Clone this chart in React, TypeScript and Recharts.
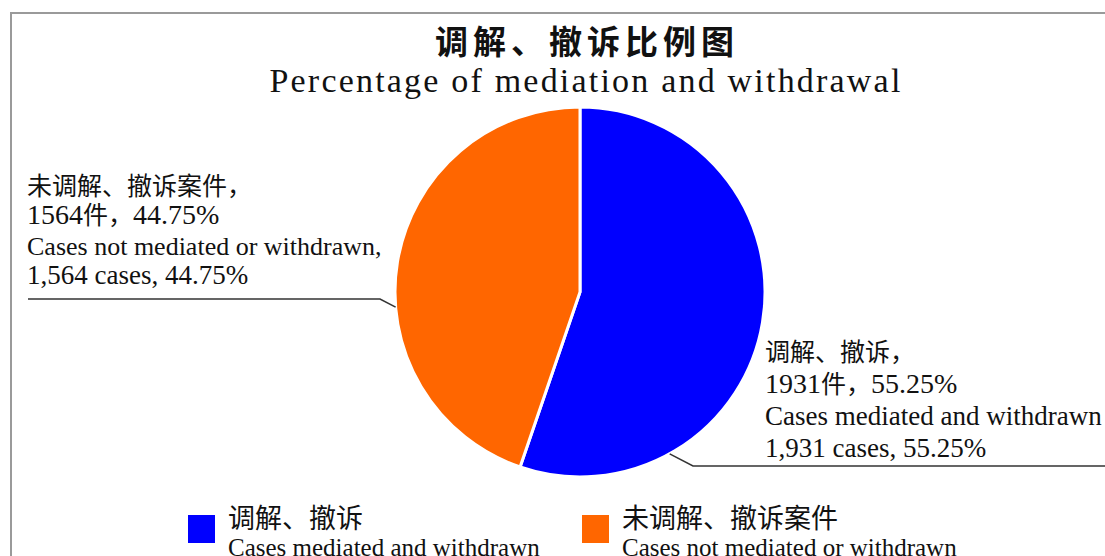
import { PieChart, Pie, Cell } from "recharts"

const categories = ["调解、撤诉", "未调解、撤诉案件"]
const categoriesEn = ["Cases mediated and withdrawn", "Cases not mediated or withdrawn"]
const caseCounts = [1931, 1564]
const percents = [55.25, 44.75]
const colors = ["#0000FF", "#FF6600"]

const chartData = categories.map((name, i) => ({
  name,
  nameEn: categoriesEn[i],
  value: caseCounts[i],
  pct: percents[i],
}))

const serif = '"Liberation Serif", "DejaVu Serif", serif'
const cjk = '"Noto Sans CJK SC", sans-serif'
const RAD = Math.PI / 180

function SliceLabel(props: any) {
  const { cx, cy, outerRadius, index } = props
  const d = chartData[index]
  if (index === 0) {
    // blue slice: leader from lower-right edge out to the right
    const a = -61 * RAD
    const px = cx + outerRadius * Math.cos(a)
    const py = cy - outerRadius * Math.sin(a)
    const ex = cx + 113
    const ey = cy + 174
    const tx = cx + 185
    return (
      <g>
        <polyline points={`${px},${py} ${ex},${ey} 1110,${ey}`} fill="none" stroke="#333" strokeWidth={1.5} />
        <text x={tx} y={cy + 69} fontFamily={cjk} fontSize={25} fill="#111">{d.name}，</text>
        <text x={tx} y={cy + 101} fontFamily={serif} fontSize={28} fill="#111">
          {d.value}<tspan fontFamily={cjk} fontSize={25}>件，</tspan>{d.pct.toFixed(2)}%
        </text>
        <text x={tx} y={cy + 133} fontFamily={serif} fontSize={27} fill="#111">{d.nameEn}</text>
        <text x={tx} y={cy + 165} fontFamily={serif} fontSize={27} fill="#111">
          {d.value.toLocaleString("en-US")} cases, {d.pct.toFixed(2)}%
        </text>
      </g>
    )
  }
  // orange slice: leader from left edge out to the left
  const a = 184.7 * RAD
  const px = cx + outerRadius * Math.cos(a)
  const py = cy - outerRadius * Math.sin(a)
  const ex = cx - 200
  const ey = cy + 7
  const tx = 27
  return (
    <g>
      <polyline points={`${px},${py} ${ex},${ey} 28,${ey}`} fill="none" stroke="#333" strokeWidth={1.5} />
      <text x={tx} y={cy - 97} fontFamily={cjk} fontSize={25} fill="#111">{d.name}，</text>
      <text x={tx} y={cy - 68} fontFamily={serif} fontSize={28} fill="#111">
        {d.value}<tspan fontFamily={cjk} fontSize={25}>件，</tspan>{d.pct.toFixed(2)}%
      </text>
      <text x={tx} y={cy - 37} fontFamily={serif} fontSize={26} fill="#111">{d.nameEn},</text>
      <text x={tx} y={cy - 8} fontFamily={serif} fontSize={27} fill="#111">
        {d.value.toLocaleString("en-US")} cases, {d.pct.toFixed(2)}%
      </text>
    </g>
  )
}

export default function App() {
  return (
    <div style={{ position: "absolute", left: 0, top: 0, width: 1105, height: 556, overflow: "hidden", background: "#fff" }}>
      <div style={{ position: "absolute", left: 10, top: 12, width: 1120, height: 600, border: "2px solid #9a9a9a", boxSizing: "border-box" }} />
      <div style={{ position: "absolute", left: 0, width: 1174, top: 20, textAlign: "center", fontFamily: cjk, fontWeight: 700, fontSize: 33, letterSpacing: 5, color: "#111", lineHeight: "40px" }}>
        调解、撤诉比例图
      </div>
      <div style={{ position: "absolute", left: 0, width: 1172, top: 61, textAlign: "center", fontFamily: serif, fontSize: 34, letterSpacing: 2.2, color: "#111", lineHeight: "40px" }}>
        Percentage of mediation and withdrawal
      </div>
      <PieChart width={1105} height={556} style={{ position: "absolute", left: 0, top: 0 }}>
        <Pie
          data={chartData}
          dataKey="value"
          cx={575}
          cy={287}
          outerRadius={185}
          startAngle={90}
          endAngle={-270}
          stroke="#fff"
          strokeWidth={3}
          label={SliceLabel}
          labelLine={false}
          isAnimationActive={false}
        >
          {chartData.map((d, i) => (
            <Cell key={d.name} fill={colors[i]} />
          ))}
        </Pie>
      </PieChart>
      {chartData.map((d, i) => (
        <div key={d.name} style={{ position: "absolute", left: 188 + i * 394, top: 499, display: "flex", alignItems: "flex-start" }}>
          <div style={{ width: 27, height: 28, background: colors[i], marginTop: 16 }} />
          <div style={{ marginLeft: 13 }}>
            <div style={{ fontFamily: cjk, fontSize: 27, lineHeight: "36px", color: "#111" }}>{d.name}</div>
            <div style={{ fontFamily: serif, fontSize: 25, lineHeight: "26px", color: "#111", whiteSpace: "nowrap" }}>{d.nameEn}</div>
          </div>
        </div>
      ))}
    </div>
  )
}
